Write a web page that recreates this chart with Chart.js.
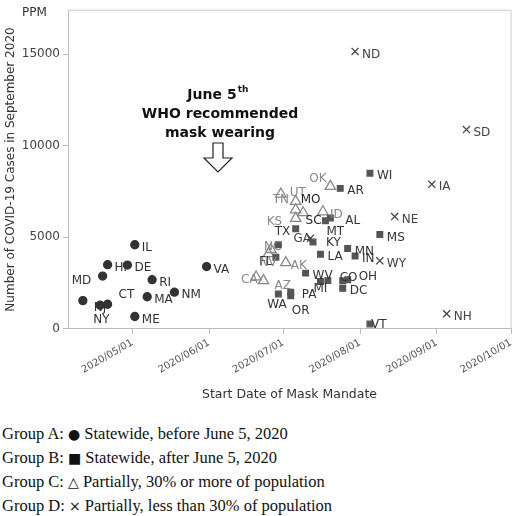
<!DOCTYPE html>
<html>
<head>
<meta charset="utf-8">
<script src="https://cdn.jsdelivr.net/npm/chart.js@4"></script>
<style>
body { margin: 0; background: #fff; }
#wrap { width: 520px; height: 410px; position: relative; }
#legend { font-family: "Liberation Serif", serif; font-size: 16.5px; color: #111; margin: 12px 0 0 2px; line-height: 24px; }
#legend span { font-family: "DejaVu Sans", sans-serif; color: #111; font-size: 14px; }
</style>
</head>
<body>
<div id="wrap"><canvas id="c" width="520" height="410"></canvas></div>
<div id="legend">
<div>Group A: <span>●</span> Statewide, before June 5, 2020</div>
<div>Group B: <span>■</span> Statewide, after June 5, 2020</div>
<div>Group C: <span>△</span> Partially, 30% or more of population</div>
<div>Group D: <span>×</span> Partially, less than 30% of population</div>
</div>
<script>
// x = days after 2020/05/01, y = cases per million
const tickDays = [0, 31, 61, 92, 123, 153];
const tickLabels = ['2020/05/01', '2020/06/01', '2020/07/01', '2020/08/01', '2020/09/01', '2020/10/01'];

const groupALabels = ['IL', 'HI', 'DE', 'MD', 'RI', 'VA', 'NJ', 'NY', 'CT', 'MA', 'NM', 'ME'];
const groupADays = [1, -10, -2, -12, 8, 30, -20, -13, -10, 6, 17, 1];
const groupAValues = [4590, 3500, 3480, 2880, 2680, 3400, 1540, 1290, 1340, 1750, 2000, 670];

const groupBLabels = ['WI', 'AR', 'MT', 'AL', 'TX', 'KY', '', 'FL', 'LA', 'MN', 'IN', 'MS', 'WV', 'MI', '', 'CO', 'OH', 'DC', 'WA', 'OR', 'PA', 'VT'];
const groupBDays = [96, 84, 78, 80, 66, 73, 59, 58, 76, 87, 90, 100, 70, 76, 79, 85, 87, 85, 59, 64, 64, 96];
const groupBValues = [8500, 7670, 5900, 6050, 5460, 4740, 4590, 3910, 4070, 4380, 3970, 5150, 3040, 2580, 2630, 2620, 2680, 2210, 1900, 1800, 2000, 260];

const groupCLabels = ['UT', 'OK', 'TN', '', '', 'KS', 'ID', 'NC', 'AK', 'CA', 'AZ', 'NV'];
const groupCDays = [60, 80, 66, 66, 69, 66, 77, 56, 62, 50, 53, 55];
const groupCValues = [7360, 7780, 6960, 6500, 6340, 6030, 6390, 4330, 3610, 2830, 2630, 4100];

const groupDLabels = ['ND', 'SD', 'IA', 'NE', 'WY', 'GA', 'NH'];
const groupDDays = [90, 135, 121, 106, 100, 72, 127];
const groupDValues = [15150, 10880, 7890, 6130, 3710, 4950, 820];

// label placement tweaks (pixels relative to point)
const labelShift = {
  MD: [-38, 2], NJ: [4, 4], NY: [-14, 12], CT: [4, -12], OK: [-28, -10], UT: [2, -4], TN: [-30, -4],
  KS: [-36, 0], NC: [-14, -6], FL: [-24, 2], CA: [-22, 0], NV: [-16, 6], AZ: [4, 2], WA: [-18, 8],
  OR: [-6, 12], PA: [4, 0], MI: [-14, 4], CO: [-10, -6], OH: [4, -6], MT: [-6, 8], AL: [8, 0],
  AK: [-2, 0], GA: [-24, -2], KY: [6, -2], TX: [-28, 0], VT: [-6, -2]
};

function pts(days, vals) { return days.map((d, i) => ({ x: d, y: vals[i] })); }

const labelPlugin = {
  id: 'labels',
  afterDatasetsDraw(chart) {
    const ctx = chart.ctx;
    ctx.save();
    ctx.font = '12px "DejaVu Sans", sans-serif';
    ctx.textBaseline = 'middle';
    chart.data.datasets.forEach((ds, di) => {
      const meta = chart.getDatasetMeta(di);
      ctx.fillStyle = ds.labelColor;
      meta.data.forEach((el, i) => {
        const lab = ds.names[i];
        if (!lab) return;
        const s = labelShift[lab] || [0, 0];
        ctx.fillText(lab, el.x + 7 + s[0], el.y + 3 + s[1]);
      });
    });
    const xs = chart.scales.x, ys = chart.scales.y;
    ctx.fillStyle = '#222';
    ctx.fillText('MO', xs.getPixelForValue(68), ys.getPixelForValue(7050));
    ctx.fillText('SC', xs.getPixelForValue(70), ys.getPixelForValue(5900));
    ctx.restore();
  }
};

const framePlugin = {
  id: 'frame',
  afterDraw(chart) {
    const { ctx, chartArea: a } = chart;
    ctx.save();
    ctx.strokeStyle = '#ccc';
    ctx.lineWidth = 1;
    ctx.beginPath();
    ctx.moveTo(a.left, a.top); ctx.lineTo(a.right, a.top); ctx.lineTo(a.right, a.bottom);
    ctx.stroke();
    ctx.fillStyle = '#111';
    ctx.textAlign = 'center';
    ctx.font = 'bold 14px "DejaVu Sans", sans-serif';
    ctx.fillText('June 5', 212, 99);
    ctx.font = 'bold 9px "DejaVu Sans", sans-serif';
    ctx.fillText('th', 243, 92);
    ctx.font = 'bold 14px "DejaVu Sans", sans-serif';
    ctx.fillText('WHO recommended', 220, 118);
    ctx.fillText('mask wearing', 220, 137);
    ctx.strokeStyle = '#222';
    ctx.lineWidth = 1.2;
    ctx.beginPath();
    ctx.moveTo(213, 143); ctx.lineTo(223, 143); ctx.lineTo(223, 158); ctx.lineTo(232, 158);
    ctx.lineTo(218, 172); ctx.lineTo(204, 158); ctx.lineTo(213, 158); ctx.closePath();
    ctx.stroke();
    ctx.textAlign = 'left';
    ctx.font = '12px "DejaVu Sans", sans-serif';
    ctx.fillStyle = '#333';
    ctx.fillText('PPM', 22, 16);
    ctx.restore();
  }
};

function ds(names, days, vals, style, radius, fill, stroke, labelColor) {
  return {
    data: pts(days, vals), names: names, pointStyle: style, pointRadius: radius,
    pointBackgroundColor: fill, pointBorderColor: stroke, pointBorderWidth: 1.3,
    labelColor: labelColor, showLine: false
  };
}

new Chart(document.getElementById('c'), {
  type: 'scatter',
  data: {
    datasets: [
      ds(groupALabels, groupADays, groupAValues, 'circle', 4, '#333', '#333', '#333'),
      ds(groupBLabels, groupBDays, groupBValues, 'rect', 4, '#555', '#555', '#333'),
      ds(groupCLabels, groupCDays, groupCValues, 'triangle', 6, 'rgba(0,0,0,0)', '#888', '#888'),
      ds(groupDLabels, groupDDays, groupDValues, 'crossRot', 5, '#333', '#444', '#444')
    ]
  },
  options: {
    animation: false,
    responsive: false,
    devicePixelRatio: 1,
    layout: { padding: { top: 2, right: 5, left: 0, bottom: 4 } },
    plugins: { legend: { display: false }, tooltip: { enabled: false } },
    scales: {
      x: {
        type: 'linear', min: -26, max: 153,
        afterBuildTicks(s) { s.ticks = tickDays.map(v => ({ value: v })); },
        ticks: {
          callback: v => tickLabels[tickDays.indexOf(v)],
          minRotation: 30, maxRotation: 30, font: { size: 10, family: 'DejaVu Sans' }, color: '#555'
        },
        grid: { drawOnChartArea: false, tickLength: 5, color: '#bbb' },
        border: { color: '#bbb' },
        title: { display: true, text: 'Start Date of Mask Mandate', font: { size: 12.5, family: 'DejaVu Sans' }, color: '#333', padding: { top: 8 } }
      },
      y: {
        min: 0, max: 17400,
        afterBuildTicks(s) { s.ticks = [0, 5000, 10000, 15000].map(v => ({ value: v })); },
        afterFit(s) { s.width = 68; },
        ticks: { callback: v => String(v), font: { size: 12, family: 'DejaVu Sans' }, color: '#444' },
        grid: { drawOnChartArea: false, tickLength: 5, color: '#bbb' },
        border: { color: '#bbb' },
        title: { display: true, text: 'Number of COVID-19 Cases in September 2020', font: { size: 12, family: 'DejaVu Sans' }, color: '#333' }
      }
    }
  },
  plugins: [labelPlugin, framePlugin]
});
</script>
</body>
</html>
